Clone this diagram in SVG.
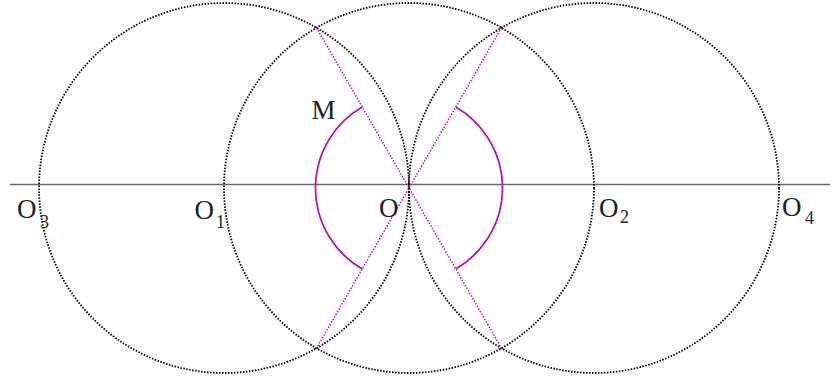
<svg xmlns="http://www.w3.org/2000/svg" width="838" height="379" viewBox="0 0 838 379">
<style>
.circ{fill:none;stroke:#000;stroke-width:1.8;stroke-dasharray:1.5 1.5}
.axis{stroke:#6a6a6a;stroke-width:1.3}
.ray{stroke:#c010c0;stroke-width:1.5;stroke-dasharray:1.5 1.5}
.arc{fill:none;stroke:#b318b3;stroke-width:1.8}
text{font-family:"Liberation Serif","DejaVu Serif",serif;fill:#222}
.lbl{font-size:27px}
.sub{font-size:18px}
</style>
<rect width="838" height="379" fill="#fff"/>
<line class="axis" x1="10" y1="184.5" x2="830" y2="184.5"/>
<g id="circles">
<circle class="circ" cx="224" cy="188" r="185"/>
<circle class="circ" cx="409" cy="188" r="185"/>
<circle class="circ" cx="594" cy="188" r="185"/>
</g>
<g id="connectors">
<line class="ray" x1="316.5" y1="27.8" x2="501.5" y2="348.2"/>
<line class="ray" x1="501.5" y1="27.8" x2="316.5" y2="348.2"/>
<path class="arc" d="M362.25,107.03 A93.5,93.5 0 0 0 362.25,268.97"/>
<path class="arc" d="M455.75,107.03 A93.5,93.5 0 0 1 455.75,268.97"/>
</g>
<g id="labels">
<text class="lbl" x="311.5" y="119">M</text>
<g id="O3"><text class="lbl" x="17" y="218">O</text><text class="sub" x="40" y="228">3</text></g>
<g id="O1"><text class="lbl" x="194.5" y="219">O</text><text class="sub" x="216" y="227.5">1</text></g>
<g id="O"><text class="lbl" x="379" y="216.5">O</text></g>
<g id="O2"><text class="lbl" x="599" y="216.5">O</text><text class="sub" x="620" y="223">2</text></g>
<g id="O4"><text class="lbl" x="782" y="215.5">O</text><text class="sub" x="805" y="224">4</text></g>
</g>
</svg>
